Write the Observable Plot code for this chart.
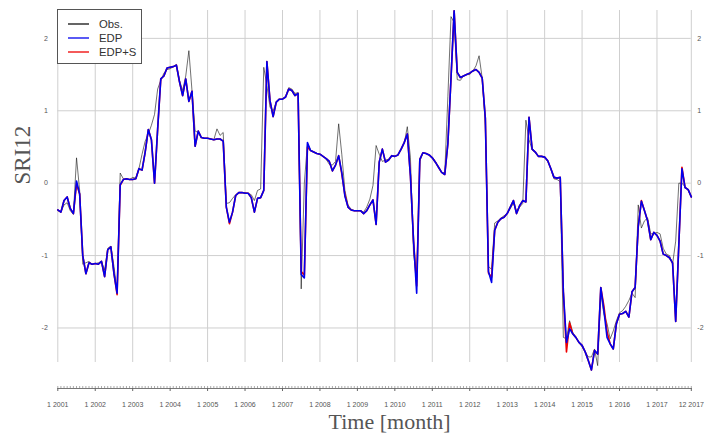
<!DOCTYPE html>
<html><head><meta charset="utf-8">
<script src="https://cdn.jsdelivr.net/npm/d3@7"></script>
<script src="https://cdn.jsdelivr.net/npm/@observablehq/plot@0.6"></script>
<style>
html,body{margin:0;padding:0;background:#fff;}
#wrap{position:relative;width:704px;height:444px;overflow:hidden;}
#legend{position:absolute;left:57px;top:9px;width:85px;height:55px;border:1px solid #555;background:#fff;box-sizing:border-box;}
#legend text{font-family:"Liberation Sans",Arial,sans-serif;font-size:11.3px;fill:#333;}
</style></head><body><div id="wrap"><div id="legend"></div></div>
<script>
// Monthly series, Jan 2001 .. Dec 2017 (12 values per row = one year)
const obs = [
 -0.38,-0.40,-0.30,-0.27,-0.38,-0.43, 0.35,-0.10,-1.12,-1.10,-1.08,-1.12,
 -1.11,-1.10,-1.08,-1.20,-0.90,-0.87,-1.15,-1.50, 0.14, 0.06, 0.05, 0.05,
  0.08, 0.07, 0.20, 0.40, 0.58, 0.68, 0.80, 0.95, 1.30, 1.42, 1.52, 1.57,
  1.58, 1.61, 1.64, 1.42, 1.28, 1.48, 1.83, 1.28, 0.72, 0.70, 0.63, 0.62,
  0.62, 0.61, 0.60, 0.75, 0.66, 0.70,-0.28,-0.27,-0.21,-0.16,-0.13,-0.13,
 -0.13,-0.14,-0.16,-0.24,-0.10,-0.08, 1.60, 1.35, 1.05, 1.00, 1.12, 1.16,
  1.16, 1.20, 1.32, 1.30, 1.24, 1.25,-1.46, 0.00, 0.55, 0.46, 0.43, 0.41,
  0.40, 0.37, 0.33, 0.26, 0.25, 0.30, 0.82, 0.40,-0.10,-0.30,-0.36,-0.38,
 -0.38,-0.38,-0.40,-0.33,-0.22,-0.03, 0.52, 0.40, 0.30, 0.32, 0.33, 0.37,
  0.37, 0.39, 0.46, 0.55, 0.78, 0.35,-0.98,-1.30, 0.30, 0.42, 0.41, 0.39,
  0.36, 0.30, 0.22, 0.15, 0.14, 1.20, 2.30, 2.22, 1.43, 1.42, 1.48, 1.50,
  1.50, 1.55, 1.62, 1.76, 1.45, 0.80,-1.15,-1.19,-0.55,-0.52,-0.48,-0.45,
 -0.42,-0.35,-0.28,-0.38,-0.33,-0.28, 0.87, 0.60, 0.46, 0.43, 0.37, 0.37,
  0.36, 0.30, 0.20, 0.06, 0.05, 0.02,-2.13,-2.15,-1.90,-2.06,-2.13,-2.20,
 -2.26,-2.33,-2.40,-2.40,-2.29,-2.52,-1.53,-1.81,-1.94,-2.15,-2.04,-1.90,
 -1.79,-1.76,-1.70,-1.62,-1.52,-1.58,-0.30,-0.62,-0.52,-0.48,-0.70,-0.70,
 -0.68,-0.70,-0.90,-0.98,-1.00,-1.12,-0.80, 0.00, 0.00,-0.05,-0.10,-0.19
];
const edp = [
 -0.37,-0.40,-0.24,-0.19,-0.35,-0.42, 0.03,-0.15,-1.00,-1.25,-1.10,-1.12,
 -1.11,-1.12,-1.08,-1.29,-0.92,-0.88,-1.25,-1.52,-0.02, 0.05, 0.06, 0.05,
  0.05, 0.06, 0.20, 0.18, 0.43, 0.74, 0.60, 0.00, 0.75, 1.44, 1.48, 1.59,
  1.60, 1.61, 1.63, 1.40, 1.21, 1.44, 1.13, 1.27, 0.51, 0.72, 0.63, 0.62,
  0.62, 0.61, 0.60, 0.61, 0.61, 0.58,-0.33,-0.54,-0.40,-0.17,-0.13,-0.13,
 -0.14,-0.14,-0.20,-0.40,-0.21,-0.20,-0.10, 1.68, 1.14, 0.92, 1.12, 1.16,
  1.16, 1.19, 1.30, 1.28, 1.21, 1.24,-1.26,-1.31, 0.56, 0.45, 0.43, 0.41,
  0.40, 0.37, 0.34, 0.30, 0.17, 0.25, 0.38, 0.15,-0.18,-0.33,-0.37,-0.38,
 -0.38,-0.38,-0.42,-0.38,-0.30,-0.23,-0.57, 0.29, 0.47, 0.29, 0.32, 0.38,
  0.37, 0.39, 0.47, 0.56, 0.68, 0.10,-0.80,-1.52, 0.33, 0.42, 0.41, 0.39,
  0.35, 0.29, 0.22, 0.15, 0.12, 0.55, 1.45, 2.38, 1.53, 1.46, 1.48, 1.50,
  1.52, 1.55, 1.57, 1.53, 1.45, 0.90,-1.22,-1.37,-0.65,-0.54,-0.49,-0.47,
 -0.42,-0.33,-0.24,-0.42,-0.31,-0.24,-0.26, 0.91, 0.47, 0.43, 0.37, 0.37,
  0.36, 0.31, 0.20, 0.08, 0.07, 0.08,-1.50,-2.20,-2.01,-2.08,-2.13,-2.20,
 -2.24,-2.33,-2.45,-2.58,-2.31,-2.36,-1.44,-1.76,-2.13,-2.22,-2.29,-1.94,
 -1.81,-1.80,-1.77,-1.85,-1.50,-1.44,-0.60,-0.25,-0.38,-0.52,-0.78,-0.68,
 -0.72,-0.80,-0.98,-1.00,-1.03,-1.10,-1.91,-0.85, 0.20,-0.06,-0.09,-0.19
];
const edps = [
 -0.37,-0.40,-0.24,-0.19,-0.35,-0.42,-0.01,-0.15,-1.00,-1.25,-1.10,-1.12,
 -1.11,-1.12,-1.08,-1.29,-0.92,-0.88,-1.25,-1.54,-0.03, 0.05, 0.06, 0.05,
  0.05, 0.06, 0.20, 0.18, 0.43, 0.74, 0.60, 0.00, 0.75, 1.44, 1.48, 1.59,
  1.60, 1.61, 1.63, 1.40, 1.21, 1.44, 1.13, 1.27, 0.51, 0.72, 0.63, 0.62,
  0.62, 0.61, 0.60, 0.61, 0.61, 0.58,-0.33,-0.56,-0.40,-0.17,-0.13,-0.13,
 -0.14,-0.14,-0.20,-0.40,-0.21,-0.20,-0.10, 1.68, 1.14, 0.92, 1.12, 1.16,
  1.16, 1.19, 1.30, 1.28, 1.21, 1.24,-1.22,-1.27, 0.50, 0.45, 0.43, 0.41,
  0.40, 0.37, 0.34, 0.30, 0.17, 0.25, 0.38, 0.13,-0.16,-0.33,-0.37,-0.38,
 -0.38,-0.38,-0.42,-0.38,-0.30,-0.23,-0.57, 0.29, 0.47, 0.29, 0.32, 0.38,
  0.37, 0.39, 0.47, 0.56, 0.68, 0.10,-0.80,-1.42, 0.33, 0.42, 0.41, 0.39,
  0.35, 0.29, 0.22, 0.15, 0.12, 0.55, 1.45, 2.38, 1.53, 1.46, 1.48, 1.50,
  1.52, 1.55, 1.57, 1.53, 1.45, 0.90,-1.24,-1.30,-0.65,-0.54,-0.49,-0.47,
 -0.42,-0.33,-0.24,-0.42,-0.31,-0.24,-0.26, 0.91, 0.47, 0.43, 0.37, 0.37,
  0.36, 0.31, 0.20, 0.08, 0.07, 0.08,-1.50,-2.33,-1.93,-2.08,-2.13,-2.20,
 -2.24,-2.33,-2.45,-2.58,-2.31,-2.36,-1.44,-1.70,-2.05,-2.22,-2.29,-1.94,
 -1.81,-1.80,-1.77,-1.85,-1.50,-1.44,-0.60,-0.24,-0.38,-0.52,-0.78,-0.68,
 -0.72,-0.80,-0.98,-1.00,-1.03,-1.10,-1.91,-0.85, 0.22,-0.06,-0.09,-0.19
];
const seriesNames = ["Obs.", "EDP", "EDP+S"];
const seriesColors = ["#111111", "#0000ee", "#ee0000"];
const firstYear = 2001;
const tickMonths = ["2001-01","2002-01","2003-01","2004-01","2005-01","2006-01","2007-01","2008-01","2009-01",
  "2010-01","2011-01","2012-01","2013-01","2014-01","2015-01","2016-01","2017-01","2017-12"];
const tickLabels = ["1 2001","1 2002","1 2003","1 2004","1 2005","1 2006","1 2007","1 2008","1 2009",
  "1 2010","1 2011","1 2012","1 2013","1 2014","1 2015","1 2016","1 2017","12 2017"];
const yTicks = [-2, -1, 0, 1, 2];
const yTickLabels = ["-2", "-1", "0", "1", "2"];

const monthToT = s => +s.slice(0, 4) + (+s.slice(5, 7) - 1) / 12;
const tickPos = tickMonths.map(monthToT);
const tOf = i => firstYear + i / 12;
const minorPos = obs.map((_, i) => tOf(i));
const yFmt = d => yTickLabels[yTicks.indexOf(d)];

const rows = [];
[[obs, "Obs."], [edps, "EDP+S"], [edp, "EDP"]].forEach(([arr, name]) => {
  arr.forEach((v, i) => rows.push({t: tOf(i), v, s: name}));
});

const yTop = 2.385, yBottom = -2.836, gridBottom = -2.477;

const chart = Plot.plot({
  width: 704, height: 444,
  marginLeft: 57.3, marginRight: 13.2, marginTop: 10, marginBottom: 56,
  x: {domain: [tOf(0), tOf(obs.length - 1)], axis: null},
  y: {domain: [yBottom, yTop], axis: null},
  color: {domain: seriesNames, range: seriesColors},
  style: {fontFamily: "'Liberation Sans', Arial, sans-serif", background: "white", overflow: "visible"},
  marks: [
    Plot.gridY(yTicks, {stroke: "#cfcfcf", strokeOpacity: 1, strokeWidth: 1}),
    Plot.ruleX(tickPos, {y1: gridBottom, y2: yTop, stroke: "#cfcfcf", strokeWidth: 1}),
    Plot.frame({anchor: "bottom", stroke: "#777"}),
    Plot.axisX(minorPos, {tickSize: -2, tickFormat: () => "", stroke: "#aaa", label: null}),
    Plot.axisX(tickPos, {tickSize: 3, tickPadding: 11, fontSize: 7, color: "#555", stroke: "#666",
      tickFormat: d => tickLabels[tickPos.indexOf(d)], label: null}),
    Plot.axisY(yTicks, {anchor: "left", tickSize: 0, tickPadding: 10, fontSize: 7, color: "#555",
      tickFormat: yFmt, label: null}),
    Plot.axisY(yTicks, {anchor: "right", tickSize: 0, tickPadding: 6, fontSize: 7, color: "#555",
      tickFormat: yFmt, label: null}),
    Plot.line(rows.filter(d => d.s === "Obs."), {x: "t", y: "v", stroke: "s", strokeWidth: 0.8, strokeOpacity: 0.75}),
    Plot.line(rows.filter(d => d.s === "EDP+S"), {x: "t", y: "v", stroke: "s", strokeWidth: 1.6}),
    Plot.line(rows.filter(d => d.s === "EDP"), {x: "t", y: "v", stroke: "s", strokeWidth: 1.6}),
    Plot.text(["Time [month]"], {frameAnchor: "bottom", dy: 40, dx: 15, fontSize: 22,
      fontFamily: "'Liberation Serif', 'Times New Roman', serif", fill: "#555"}),
    Plot.text(["SRI12"], {frameAnchor: "left", dx: -35, dy: -15, rotate: -90, fontSize: 23,
      fontFamily: "'Liberation Serif', 'Times New Roman', serif", fill: "#555"})
  ]
});
document.getElementById("wrap").prepend(chart);

// Legend
const lg = d3.select("#legend").append("svg").attr("width", 83).attr("height", 53);
seriesNames.forEach((name, i) => {
  const y = 14 + i * 14;
  lg.append("line").attr("x1", 10).attr("x2", 31).attr("y1", y).attr("y2", y)
    .attr("stroke", seriesColors[i]).attr("stroke-width", 1.3);
  lg.append("text").attr("x", 41).attr("y", y).attr("dy", "0.35em").text(name);
});
</script></body></html>
